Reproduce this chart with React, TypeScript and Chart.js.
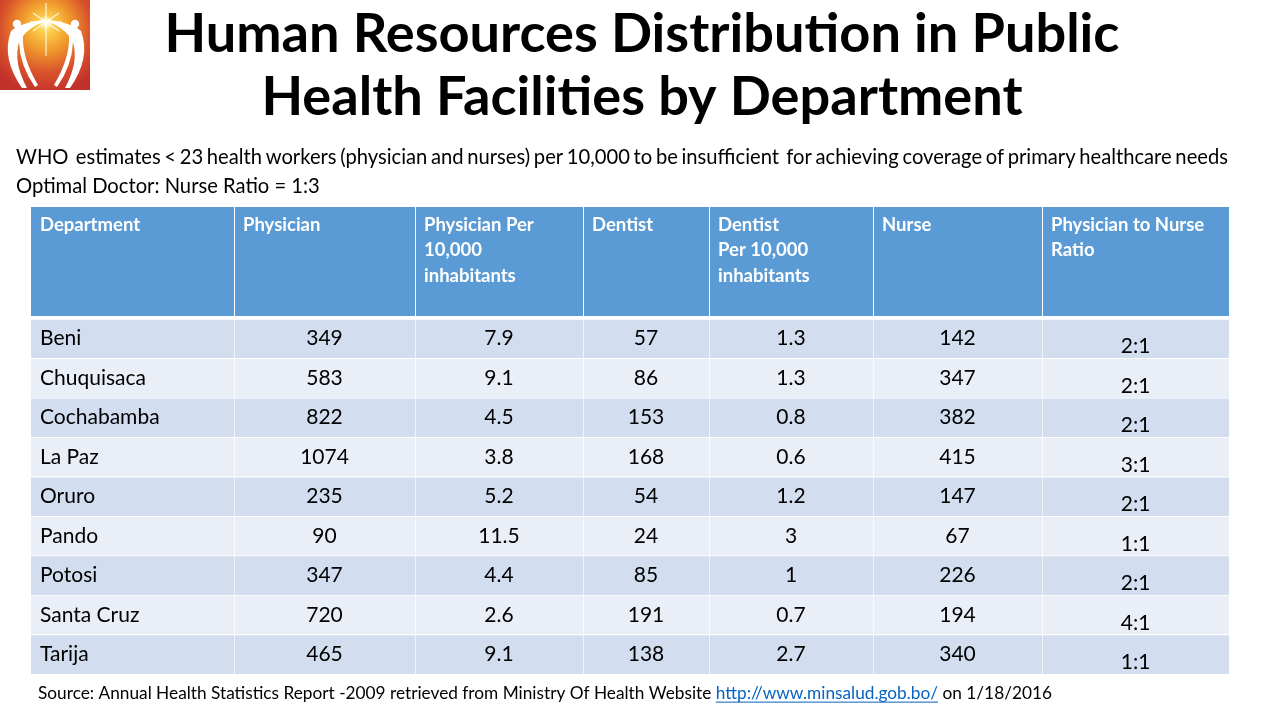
import React, { useEffect, useRef } from "react";
import { Chart, registerables } from "chart.js";

Chart.register(...registerables);

// ---------------- data ----------------
const titleLines = ["Human Resources Distribution in Public", "Health Facilities by Department"];
const noteLine1 =
  "WHO  estimates < 23 health workers (physician and nurses) per 10,000 to be insufficient  for achieving coverage of primary healthcare needs";
const noteLine2 = "Optimal Doctor: Nurse Ratio = 1:3";
const sourceText = "Source: Annual Health Statistics Report -2009 retrieved from Ministry Of Health Website ";
const sourceLink = "http://www.minsalud.gob.bo/";
const sourceTail = " on 1/18/2016";

const headers: string[][] = [
  ["Department"],
  ["Physician"],
  ["Physician Per", "10,000", "inhabitants"],
  ["Dentist"],
  ["Dentist", "Per 10,000", "inhabitants"],
  ["Nurse"],
  ["Physician to Nurse", "Ratio"],
];

const departments = ["Beni", "Chuquisaca", "Cochabamba", "La Paz", "Oruro", "Pando", "Potosi", "Santa Cruz", "Tarija"];
const physician = [349, 583, 822, 1074, 235, 90, 347, 720, 465];
const physicianPer10k = ["7.9", "9.1", "4.5", "3.8", "5.2", "11.5", "4.4", "2.6", "9.1"];
const dentist = [57, 86, 153, 168, 54, 24, 85, 191, 138];
const dentistPer10k = ["1.3", "1.3", "0.8", "0.6", "1.2", "3", "1", "0.7", "2.7"];
const nurse = [142, 347, 382, 415, 147, 67, 226, 194, 340];
const ratio = ["2:1", "2:1", "2:1", "3:1", "2:1", "1:1", "2:1", "4:1", "1:1"];

// ---------------- layout / style ----------------
const W = 1280;
const H = 720;
const colEdges = [31, 234, 415, 583, 709, 873, 1042, 1229];
const headerTop = 207;
const headerBottom = 316;
const bodyTop = 319;
const bodyBottom = 674;
const headerColor = "#5B9BD5";
const band1 = "#D2DEEF";
const band2 = "#EAEFF7";
const FONT = "Lato, 'Open Sans', sans-serif";

function fitSize(ctx: CanvasRenderingContext2D, text: string, target: number, weight: string) {
  ctx.font = `${weight} 100px ${FONT}`;
  const w = ctx.measureText(text).width;
  return (100 * target) / w;
}

function drawJustified(ctx: CanvasRenderingContext2D, text: string, x0: number, x1: number, y: number) {
  const tokens = text.split(" ");
  const widths = tokens.map((t) => ctx.measureText(t).width);
  const total = widths.reduce((a, b) => a + b, 0);
  const gap = (x1 - x0 - total) / (tokens.length - 1);
  let x = x0;
  tokens.forEach((t, i) => {
    if (t) ctx.fillText(t, x, y);
    x += widths[i] + gap;
  });
}

function drawLogo(ctx: CanvasRenderingContext2D) {
  ctx.save();
  const g = ctx.createRadialGradient(46, 24, 0, 46, 30, 64);
  g.addColorStop(0, "#FFF6B0");
  g.addColorStop(0.12, "#FBD04A");
  g.addColorStop(0.38, "#F09A2C");
  g.addColorStop(0.7, "#D8522B");
  g.addColorStop(1, "#C2302B");
  ctx.fillStyle = g;
  ctx.fillRect(0, 0, 90, 90);
  ctx.strokeStyle = "rgba(255,255,255,0.85)";
  ctx.lineWidth = 1.2;
  const rays: [number, number, number, number][] = [
    [46, 3, 46, 56],
    [30, 22, 62, 22],
    [33, 13, 59, 31],
    [33, 31, 59, 13],
  ];
  rays.forEach(([a, b, c, d]) => {
    ctx.beginPath();
    ctx.moveTo(a, b);
    ctx.lineTo(c, d);
    ctx.stroke();
  });
  const sg = ctx.createRadialGradient(46, 22, 0, 46, 22, 7);
  sg.addColorStop(0, "rgba(255,255,255,1)");
  sg.addColorStop(1, "rgba(255,255,255,0)");
  ctx.fillStyle = sg;
  ctx.beginPath();
  ctx.arc(46, 22, 7, 0, Math.PI * 2);
  ctx.fill();
  ctx.fillStyle = "#FFFFFF";
  const figure = (m: (x: number) => number) => {
    ctx.beginPath();
    ctx.arc(m(17), 24, 4.2, 0, Math.PI * 2);
    ctx.fill();
    ctx.beginPath();
    ctx.moveTo(m(11), 31);
    ctx.quadraticCurveTo(m(1), 58, m(22), 88);
    ctx.lineTo(m(27), 88);
    ctx.quadraticCurveTo(m(13), 62, m(19), 42);
    ctx.quadraticCurveTo(m(20), 66, m(35), 87);
    ctx.lineTo(m(38), 85);
    ctx.quadraticCurveTo(m(22), 58, m(23), 36);
    ctx.quadraticCurveTo(m(30), 27, m(43), 22);
    ctx.lineTo(m(43), 20);
    ctx.quadraticCurveTo(m(26), 22, m(15), 28);
    ctx.closePath();
    ctx.fill();
  };
  figure((x) => x);
  figure((x) => 92 - x);
  ctx.restore();
}

const decorPlugin = {
  id: "slideDecor",
  beforeDraw(chart: any) {
    const ctx: CanvasRenderingContext2D = chart.ctx;
    const xs = chart.scales.x;
    ctx.save();
    ctx.fillStyle = "#FFFFFF";
    ctx.fillRect(0, 0, W, H);
    drawLogo(ctx);

    // title
    const ts = fitSize(ctx, titleLines[0], 955, "bold");
    ctx.font = `bold ${ts}px ${FONT}`;
    ctx.fillStyle = "#000000";
    ctx.textAlign = "center";
    ctx.textBaseline = "middle";
    ctx.fillText(titleLines[0], 642, 35);
    ctx.fillText(titleLines[1], 642, 98);

    // notes
    const ns = fitSize(ctx, noteLine2, 304, "normal");
    ctx.font = `normal ${ns}px ${FONT}`;
    ctx.textAlign = "left";
    drawJustified(ctx, noteLine1, 16, 1228, 157);
    ctx.fillText(noteLine2, 16, 186);

    // header row
    for (let i = 0; i < headers.length; i++) {
      const x0 = xs.getPixelForValue(colEdges[i]);
      const x1 = xs.getPixelForValue(colEdges[i + 1]);
      ctx.fillStyle = headerColor;
      ctx.fillRect(x0, headerTop, x1 - x0, headerBottom - headerTop);
      if (i > 0) {
        ctx.fillStyle = "#FFFFFF";
        ctx.fillRect(x0, headerTop, 1, headerBottom - headerTop);
      }
      ctx.fillStyle = "#FFFFFF";
      ctx.font = `bold 18.5px ${FONT}`;
      headers[i].forEach((line, k) => {
        ctx.fillText(line, x0 + 9, 225 + k * 25.5);
      });
    }

    // source
    const full = sourceText + sourceLink + sourceTail;
    const ss = fitSize(ctx, full, 1014, "normal");
    ctx.font = `normal ${ss}px ${FONT}`;
    let x = 38;
    const y = 693;
    ctx.fillStyle = "#000000";
    ctx.fillText(sourceText, x, y);
    x += ctx.measureText(sourceText).width;
    ctx.fillStyle = "#0563C1";
    ctx.fillText(sourceLink, x, y);
    const lw = ctx.measureText(sourceLink).width;
    ctx.fillRect(x, y + ss * 0.5, lw, 1);
    x += lw;
    ctx.fillStyle = "#000000";
    ctx.fillText(sourceTail, x, y);
    ctx.restore();
  },
  afterDatasetsDraw(chart: any) {
    const ctx: CanvasRenderingContext2D = chart.ctx;
    const columns: (string | number)[][] = [departments, physician, physicianPer10k, dentist, dentistPer10k, nurse, ratio];
    ctx.save();
    ctx.fillStyle = "#000000";
    ctx.font = `normal 21px ${FONT}`;
    ctx.textBaseline = "middle";
    columns.forEach((col, i) => {
      const meta = chart.getDatasetMeta(i);
      meta.data.forEach((el: any, j: number) => {
        const p = el.getProps(["x", "y", "base"], true);
        const left = Math.min(p.x, p.base);
        const right = Math.max(p.x, p.base);
        const txt = String(col[j]);
        if (i === 0) {
          ctx.textAlign = "left";
          ctx.fillText(txt, left + 9, p.y);
        } else {
          ctx.textAlign = "center";
          ctx.fillText(txt, (left + right) / 2, i === columns.length - 1 ? p.y + 8 : p.y);
        }
      });
    });
    ctx.restore();
  },
};

export default function App() {
  const ref = useRef<HTMLCanvasElement | null>(null);
  useEffect(() => {
    if (!ref.current) return;
    const datasets = headers.map((_, i) => ({
      data: departments.map(() => [colEdges[i], colEdges[i + 1]]),
      backgroundColor: departments.map((_, j) => (j % 2 === 0 ? band1 : band2)),
      borderColor: "#FFFFFF",
      borderWidth: { top: 1, left: i === 0 ? 0 : 1, right: 0, bottom: 0 },
      borderSkipped: false,
      barPercentage: 1,
      categoryPercentage: 1,
      grouped: false,
    }));
    const chart = new Chart(ref.current, {
      type: "bar",
      data: { labels: departments, datasets: datasets as any },
      options: {
        indexAxis: "y",
        responsive: false,
        animation: false,
        events: [],
        layout: { padding: { left: colEdges[0], right: W - colEdges[colEdges.length - 1], top: bodyTop, bottom: H - bodyBottom } },
        scales: {
          x: { type: "linear", min: colEdges[0], max: colEdges[colEdges.length - 1], display: false },
          y: { type: "category", display: false },
        },
        plugins: { legend: { display: false }, tooltip: { enabled: false }, title: { display: false } },
      },
      plugins: [decorPlugin],
    });
    return () => chart.destroy();
  }, []);
  return (
    <div style={{ position: "absolute", left: 0, top: 0, width: W, height: H, background: "#fff" }}>
      <canvas ref={ref} width={W} height={H} style={{ width: W, height: H, display: "block" }} />
    </div>
  );
}
